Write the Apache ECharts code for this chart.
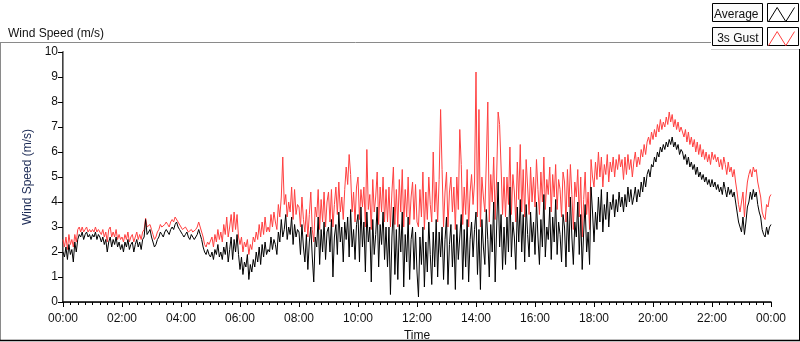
<!DOCTYPE html>
<html>
<head>
<meta charset="UTF-8">
<title>Wind Speed</title>
<script src="https://cdn.jsdelivr.net/npm/echarts@6/dist/echarts.min.js"></script>
<style>
  html, body { margin: 0; padding: 0; background: #fff; }
  #chart { width: 800px; height: 342px; }
</style>
</head>
<body>
<div id="chart"></div>
<script>
// minutes between samples, 00:00 .. 24:00
var stepMin = 3;
var timeLabels = ['00:00', '02:00', '04:00', '06:00', '08:00', '10:00', '12:00',
                  '14:00', '16:00', '18:00', '20:00', '22:00', '00:00'];
var seriesNames = ['Average', '3s Gust'];

// average wind speed, m/s (one row = one hour)
var avgSpeed = [
  2.0,1.8,2.2,1.7,2.3,1.9,2.1,1.6,2.4,2.0, 2.5,2.7,2.6,2.8,2.5,2.7,2.8,2.6,2.7,2.5,
  2.7,2.6,2.8,2.5,2.7,2.6,2.4,2.6,2.3,2.5, 2.0,2.4,2.6,2.2,2.5,2.3,2.6,2.2,2.4,2.1,
  2.3,2.0,2.4,2.2,2.5,2.1,2.3,2.4,2.0,2.3, 2.5,2.2,2.4,2.1,2.5,2.6,3.3,2.7,2.8,2.9,
  2.6,2.4,2.2,2.3,2.5,2.6,2.8,2.7,2.6,2.8, 2.9,2.8,2.7,2.9,3.0,2.9,3.1,3.2,3.0,2.9,
  2.8,2.7,2.6,2.7,2.8,2.6,2.5,2.7,2.6,2.5, 2.6,2.7,2.9,2.7,2.5,2.2,2.0,1.9,2.1,1.9,
  1.8,2.0,1.7,2.1,1.9,2.3,1.8,2.0,1.7,2.2, 1.9,2.4,1.6,2.1,2.6,1.7,2.5,2.0,2.7,1.9,
  1.3,1.8,1.1,1.6,1.4,1.9,0.9,1.5,1.2,1.7, 1.4,2.0,1.6,2.2,1.5,2.3,1.8,2.4,1.9,2.1,
  2.0,2.6,2.1,2.5,2.3,1.9,2.8,2.4,3.3,2.6, 2.9,3.5,2.5,3.0,2.7,3.4,2.3,3.1,2.6,2.9,
  2.8,1.9,3.1,2.2,1.6,2.7,1.3,2.4,3.0,1.8, 0.8,2.6,2.2,3.4,1.5,2.9,2.0,3.2,1.7,2.8,
  3.0,2.0,3.3,1.0,2.6,3.1,1.9,3.6,2.4,3.0, 1.6,3.2,2.5,3.4,1.8,3.7,2.2,2.9,1.7,3.1,
  3.5,1.6,3.8,2.2,3.2,1.2,3.6,2.4,3.0,0.8, 3.3,1.9,2.7,3.8,1.4,3.1,2.3,3.6,1.7,3.0,
  1.4,3.0,0.3,2.6,3.8,1.1,2.9,0.9,3.1,2.0, 3.6,0.6,2.7,1.6,3.4,0.9,2.5,3.0,1.3,2.8,
  1.2,0.2,2.6,1.5,3.0,0.6,2.4,1.2,3.2,1.9, 0.7,2.8,1.4,3.3,1.0,2.8,1.8,3.0,0.9,2.5,
  3.4,0.7,2.3,3.1,1.4,2.7,0.5,3.1,1.7,2.6, 3.5,0.9,2.9,1.4,3.3,0.8,2.5,3.2,1.8,2.9,
  3.6,1.1,2.9,0.5,3.3,2.2,1.5,3.7,2.5,1.0, 3.1,2.0,4.0,0.8,3.0,4.8,2.2,3.5,1.3,3.0,
  1.5,3.4,2.0,4.6,1.8,3.2,2.6,1.3,3.8,2.4, 4.1,2.0,3.5,1.6,3.9,2.7,1.8,3.6,2.4,3.2,
  1.9,4.0,2.6,1.5,3.3,2.2,4.3,1.8,3.0,2.5, 3.8,1.7,3.4,2.4,4.1,1.9,3.2,2.7,1.6,3.5,
  3.0,1.4,3.6,2.0,4.2,2.6,1.5,3.2,2.6,4.0, 1.9,3.5,1.3,2.8,3.9,2.0,2.8,1.5,4.6,3.6,
  2.4,3.6,2.9,4.2,3.2,4.5,2.8,3.9,3.3,4.4, 3.0,4.0,3.7,4.3,3.4,4.1,3.6,4.4,3.8,4.2,
  3.6,4.3,3.8,4.6,4.0,4.5,3.9,4.2,4.6,4.0, 4.5,4.2,4.8,4.4,5.0,4.6,5.1,5.3,5.0,5.5,
  5.4,5.8,5.6,6.0,5.8,6.2,6.0,6.3,6.1,6.4, 6.2,6.5,6.3,6.6,6.2,6.4,6.1,6.3,5.9,6.1,
  6.0,5.7,5.9,5.5,5.8,5.4,5.6,5.3,5.5,5.1, 5.4,5.0,5.2,4.9,5.1,4.8,5.0,4.7,4.9,4.6,
  4.9,4.6,4.8,4.5,4.7,4.4,4.6,4.3,4.8,4.5, 4.2,4.6,4.3,4.5,4.2,4.4,4.0,3.6,3.2,3.0,
  2.8,3.4,2.7,3.2,3.8,4.0,4.4,4.1,4.5,4.2, 4.4,3.9,3.6,3.4,2.9,2.7,2.6,3.0,2.7,3.0,
  3.1
];

// 3 second gust, m/s
var gustSpeed = [
  2.5,2.2,2.6,2.1,2.7,2.3,2.5,2.2,2.7,2.4, 2.9,3.0,2.8,3.0,2.8,2.9,3.0,2.8,2.9,2.8,
  2.9,2.8,3.0,2.8,2.9,2.8,2.7,2.9,2.6,2.8, 2.4,2.9,3.0,2.6,2.8,2.6,2.9,2.5,2.7,2.5,
  2.6,2.4,2.7,2.5,2.8,2.4,2.6,2.7,2.4,2.6, 2.8,2.5,2.7,2.5,2.8,2.9,3.35,3.0,3.0,3.1,
  2.9,2.7,2.5,2.6,2.8,2.9,3.1,3.0,3.0,3.1, 3.2,3.1,3.0,3.2,3.3,3.2,3.4,3.35,3.2,3.2,
  3.0,2.9,2.9,3.0,3.0,2.8,2.8,2.9,2.8,2.8, 2.9,3.0,3.2,3.0,2.8,2.6,2.3,2.2,2.4,2.3,
  2.3,2.6,2.2,2.7,2.4,2.9,2.5,2.8,2.4,3.1, 2.7,3.4,2.6,3.0,3.5,2.8,3.6,2.9,3.5,2.6,
  2.3,2.6,2.0,2.4,2.2,2.5,1.9,2.3,2.1,2.6, 2.4,2.8,2.5,3.1,2.6,3.2,2.7,3.4,2.8,3.0,
  2.8,3.5,3.0,3.6,3.2,2.9,3.9,3.4,4.2,5.8, 3.9,4.3,3.4,4.0,3.6,4.6,3.3,4.5,3.5,3.9,
  3.8,3.0,4.2,3.3,2.8,3.7,2.6,3.5,4.4,2.9, 2.4,3.8,3.4,4.5,2.9,4.1,3.2,4.4,3.0,4.0,
  4.4,3.2,4.5,3.0,3.9,4.6,3.5,4.8,3.6,4.2, 3.3,4.5,5.4,4.7,5.9,5.1,3.6,4.4,3.2,4.6,
  5.0,3.3,4.5,3.8,4.6,3.0,6.1,3.7,4.3,2.9, 4.9,3.6,4.2,5.2,3.1,4.6,3.6,5.0,3.2,4.5,
  3.2,4.6,3.0,4.4,5.4,3.1,4.5,3.0,4.9,3.6, 5.3,3.0,4.5,3.4,5.0,3.1,4.2,4.8,3.3,4.7,
  3.2,3.0,4.5,3.4,5.2,2.9,4.4,3.3,5.0,3.9, 3.2,6.0,3.6,4.8,3.2,4.9,7.7,5.3,3.0,4.4,
  5.2,3.0,4.4,5.0,3.6,4.6,2.9,5.0,3.7,6.9, 5.5,3.1,4.6,3.5,5.3,3.0,4.4,5.1,3.9,4.8,
  9.2,3.4,7.7,3.0,5.0,4.2,3.6,5.6,8.0,3.2, 5.1,4.0,5.8,3.3,5.0,7.6,7.1,5.4,3.5,5.0,
  3.4,5.0,3.9,6.2,3.5,5.1,4.4,3.2,5.6,4.1, 6.3,3.6,5.3,3.4,5.7,4.6,3.5,5.4,4.0,5.0,
  3.8,5.7,4.5,3.5,5.2,4.0,5.8,3.7,4.9,4.3, 5.4,3.6,5.1,4.2,5.5,3.7,4.9,4.5,3.4,5.2,
  4.8,3.2,5.3,3.8,5.5,4.3,2.9,4.8,4.2,5.3, 3.4,5.0,2.6,4.1,5.2,3.5,4.4,2.9,5.7,5.0,
  4.6,5.6,4.9,6.0,5.0,5.8,4.6,5.5,5.1,5.9, 4.8,5.6,5.2,5.8,5.0,5.7,5.3,5.9,5.4,5.7,
  4.9,5.8,5.1,5.9,5.3,5.7,5.0,5.6,6.0,5.4, 5.8,5.5,6.1,5.8,6.3,5.9,6.4,6.6,6.3,6.8,
  6.5,6.9,6.6,7.1,6.8,7.3,6.9,7.2,7.0,7.4, 7.1,7.6,7.2,7.5,7.0,7.3,6.9,7.2,6.8,7.0,
  7.0,6.6,6.9,6.4,6.8,6.3,6.6,6.2,6.5,6.0, 6.4,5.9,6.3,5.8,6.1,5.7,6.0,5.6,5.9,5.5,
  6.0,5.7,5.9,5.6,5.8,5.4,5.7,5.3,5.8,5.5, 5.1,5.6,5.2,5.4,5.0,5.3,4.8,4.4,3.9,3.6,
  3.6,4.4,3.4,4.2,4.8,5.1,5.3,5.0,5.4,5.2, 5.3,4.8,4.5,4.2,3.6,3.4,3.3,3.9,3.8,4.2,
  4.3
];

function toPairs(arr) {
  return arr.map(function (v, i) { return [i * stepMin, v]; });
}

var font = 'Liberation Sans';
var chart = echarts.init(document.getElementById('chart'), null, { renderer: 'canvas' });

var zigzag = 'path://M0,14L8,1L16,14L24,1';

var option = {
  animation: false,
  backgroundColor: '#fff',
  textStyle: { fontFamily: font },
  title: {
    text: 'Wind Speed (m/s)',
    left: 3, top: 23,
    textStyle: { fontFamily: font, fontSize: 12, fontWeight: 'normal', color: '#111' }
  },
  legend: {
    orient: 'vertical',
    right: 0, top: 2,
    align: 'right',
    itemWidth: 26, itemHeight: 15, itemGap: 9,
    selectedMode: false,
    textStyle: { fontFamily: font, fontSize: 12, color: '#111', padding: [0, 5, 0, 0] },
    data: [
      { name: seriesNames[0], icon: zigzag,
        itemStyle: { color: 'transparent', borderColor: '#000', borderWidth: 1 } },
      { name: seriesNames[1], icon: zigzag,
        itemStyle: { color: 'transparent', borderColor: '#ff4040', borderWidth: 1 } }
    ]
  },
  grid: { left: 63, right: 29, top: 52, bottom: 40, show: false, outerBoundsMode: 'none' },
  xAxis: [{
    type: 'value',
    min: 0, max: 1440, interval: 120,
    name: 'Time', nameLocation: 'middle', nameGap: 28,
    nameTextStyle: { fontFamily: font, fontSize: 12, color: '#111' },
    axisLine: { show: true, lineStyle: { color: '#8a8a8a', width: 1 } },
    axisTick: { show: true, length: 5, lineStyle: { color: '#000' } },
    minorTick: { show: true, splitNumber: 8, length: 3, lineStyle: { color: '#000' } },
    axisLabel: {
      margin: 11, fontFamily: font, fontSize: 12, color: '#111',
      formatter: function (v) { return timeLabels[Math.round(v / 120)]; }
    },
    splitLine: { show: false }
  }, {
    type: 'value', position: 'top',
    min: 0, max: 1440,
    axisLine: { show: true, lineStyle: { color: '#000', width: 1.5 } },
    axisTick: { show: false }, axisLabel: { show: false }, splitLine: { show: false }
  }],
  yAxis: [{
    type: 'value',
    min: 0, max: 10, interval: 1,
    name: 'Wind Speed (m/s)', nameLocation: 'middle', nameGap: 25,
    nameTextStyle: { fontFamily: font, fontSize: 12, color: '#1b2a55' },
    axisLine: { show: true, lineStyle: { color: '#000', width: 1.5 } },
    axisTick: { show: true, length: 5, lineStyle: { color: '#000' } },
    axisLabel: { margin: 5, padding: [3, 0, 0, 0], fontFamily: font, fontSize: 12, color: '#111' },
    splitLine: { show: false }
  }, {
    type: 'value', position: 'right',
    min: 0, max: 10,
    axisLine: { show: true, lineStyle: { color: '#8a8a8a', width: 1 } },
    axisTick: { show: false }, axisLabel: { show: false }, splitLine: { show: false }
  }],
  series: [{
    name: seriesNames[0],
    type: 'line',
    data: toPairs(avgSpeed),
    showSymbol: false,
    z: 3,
    itemStyle: { color: '#000' },
    lineStyle: { color: '#000', width: 1 }
  }, {
    name: seriesNames[1],
    type: 'line',
    data: toPairs(gustSpeed),
    showSymbol: false,
    z: 2,
    itemStyle: { color: '#ff4040' },
    lineStyle: { color: '#ff4040', width: 1 }
  }],
  graphic: [
    // outer panel frame
    { type: 'line', shape: { x1: 0, y1: 42.5, x2: 711, y2: 42.5 }, style: { stroke: '#8a8a8a', lineWidth: 1 } },
    { type: 'line', shape: { x1: 0.5, y1: 42, x2: 0.5, y2: 341 }, style: { stroke: '#8a8a8a', lineWidth: 1 } },
    { type: 'line', shape: { x1: 0, y1: 340.5, x2: 800, y2: 340.5 }, style: { stroke: '#000', lineWidth: 1.5 } },
    { type: 'line', shape: { x1: 799.5, y1: 49, x2: 799.5, y2: 341 }, style: { stroke: '#000', lineWidth: 1 } },
    { type: 'line', shape: { x1: 711, y1: 49.5, x2: 799, y2: 49.5 }, style: { stroke: '#d0d0d0', lineWidth: 1 } },
    // legend boxes
    { type: 'rect', z: -1, shape: { x: 712.5, y: 3.5, width: 50, height: 18 }, style: { fill: '#fafafa', stroke: '#000', lineWidth: 1 } },
    { type: 'rect', z: -1, shape: { x: 767.5, y: 3.5, width: 31, height: 18 }, style: { fill: '#fff', stroke: '#000', lineWidth: 1 } },
    { type: 'rect', z: -1, shape: { x: 712.5, y: 27.5, width: 50, height: 18 }, style: { fill: '#fafafa', stroke: '#000', lineWidth: 1 } },
    { type: 'rect', z: -1, shape: { x: 767.5, y: 27.5, width: 31, height: 18 }, style: { fill: '#fff', stroke: '#000', lineWidth: 1 } }
  ]
};

chart.setOption(option);
</script>
</body>
</html>
